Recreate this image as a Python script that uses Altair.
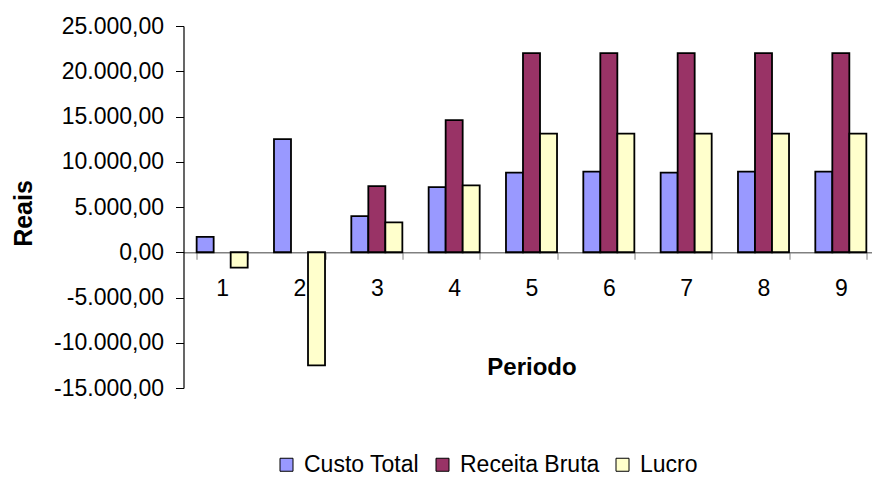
import altair as alt
import pandas as pd

periodos = ["1", "2", "3", "4", "5", "6", "7", "8", "9"]
series = ["Custo Total", "Receita Bruta", "Lucro"]
custo_total = [1700, 12500, 4000, 7200, 8800, 8900, 8800, 8900, 8900]
receita_bruta = [0, 0, 7300, 14600, 22000, 22000, 22000, 22000, 22000]
lucro = [-1700, -12500, 3300, 7400, 13100, 13100, 13100, 13100, 13100]
y_ticks = [-15000, -10000, -5000, 0, 5000, 10000, 15000, 20000, 25000]
colors = ["#9999FF", "#993366", "#FFFFCC"]

rows = []
for name, vals in zip(series, [custo_total, receita_bruta, lucro]):
    for p, v in zip(periodos, vals):
        rows.append({"Periodo": p, "Serie": name, "Valor": v})
df = pd.DataFrame(rows)

FONT = "Liberation Sans"
LEFT, TOP = 183.5, 26
W, H = 689, 362
XRANGE = 696
zero_from_bottom = H * 15000 / 40000

label_expr = ("replace(replace(replace(replace(format(datum.value, ',.2f'), ',', '#'), "
              "'.', ','), '#', '.'), '\u2212', '-')")

chart = alt.Chart(df).transform_filter("datum.Valor != 0").mark_bar(
    stroke="black", strokeWidth=1.8
).encode(
    x=alt.X("Periodo:N", sort=periodos,
            scale=alt.Scale(paddingInner=0.34, paddingOuter=0.17, range=[0, XRANGE]),
            axis=alt.Axis(title="Periodo", orient="bottom", offset=-zero_from_bottom,
                          labelAngle=0, labelFontSize=23, labelFont=FONT,
                          labelColor="black", labelPadding=18,
                          tickBand="extent", tickSize=7, tickColor="#808080",
                          domainColor="#808080", domainWidth=1.5,
                          titleFont=FONT, titleFontSize=24, titleFontWeight="bold",
                          titleColor="black", titlePadding=55)),
    xOffset=alt.XOffset("Serie:N", sort=series, scale=alt.Scale(domain=series)),
    y=alt.Y("Valor:Q",
            scale=alt.Scale(domain=[-15000, 25000], nice=False, zero=False),
            axis=alt.Axis(title="Reais", values=y_ticks, grid=False,
                          labelExpr=label_expr,
                          labelFontSize=23, labelFont=FONT, labelColor="black",
                          labelPadding=12, tickSize=8, tickColor="black",
                          domainColor="black", domainWidth=1.2,
                          titleFont=FONT, titleFontSize=25, titleFontWeight="bold",
                          titleColor="black", titlePadding=17, titleY=187)),
    fill=alt.Fill("Serie:N", sort=series,
                  scale=alt.Scale(domain=series, range=colors),
                  legend=alt.Legend(title=None, orient="none", direction="horizontal",
                                    legendX=275 - LEFT, legendY=453 - TOP,
                                    padding=0,
                                    symbolType="square", symbolSize=169,
                                    symbolStrokeColor="black", symbolStrokeWidth=1,
                                    labelFont=FONT, labelFontSize=23, labelColor="black",
                                    labelOffset=6, columnPadding=11)),
).properties(
    width=W, height=H,
    autosize=alt.AutoSizeParams(type="none"),
    padding={"left": LEFT, "top": TOP, "right": 872 - LEFT - W, "bottom": 478 - TOP - H},
).configure(background="white").configure_view(stroke=None)

chart.save("out.html", embed_options={"renderer": "svg", "actions": False})
